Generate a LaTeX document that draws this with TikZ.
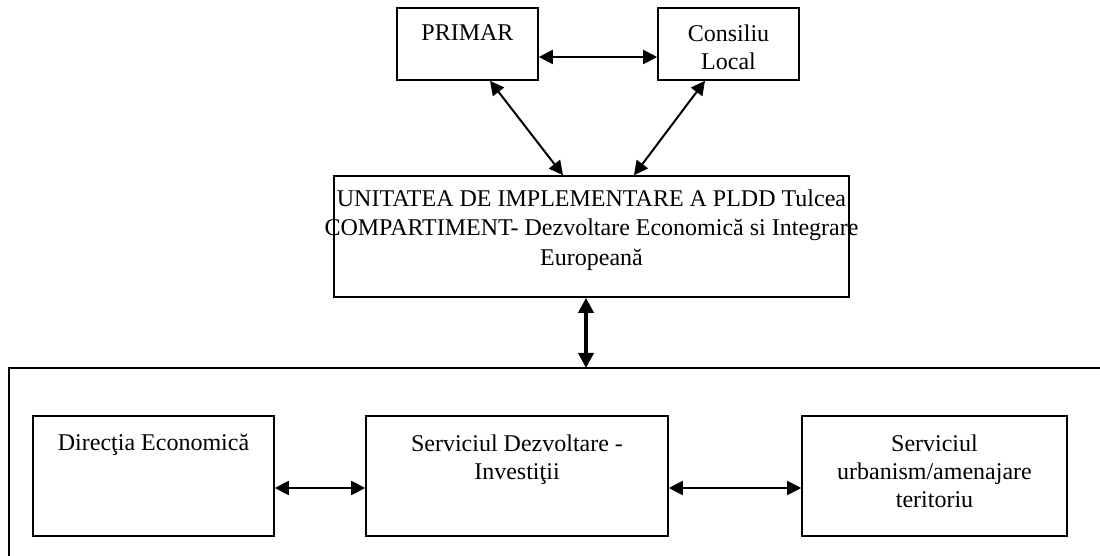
\documentclass[tikz,border=0pt]{standalone}
\usepackage{fontspec}
\setmainfont{Liberation Serif}
\usetikzlibrary{arrows.meta,calc}
\tikzset{
	box/.style={draw,line width=0.8pt,inner sep=0},
	boxtext/.style={anchor=north,align=center,inner sep=0,font=\fontsize{12}{14}\selectfont,yshift=-8.5pt},
	dirarrow/.style={<->,>={Triangle[length=7pt,width=7pt]},line width=1pt},
	thickarrow/.style={<->,>={Triangle[length=7.5pt,width=7.5pt]},line width=1.8pt}
}
\begin{document}
\begin{tikzpicture}[x=0.5pt,y=-0.5pt]
	\useasboundingbox (0,0) rectangle (1100,556);

	%%Primar and Consiliu Local
	\node[box,minimum width=70.5pt,minimum height=36pt] (primar) at (467.5,44) {};
	\node[boxtext] (primarT) at (primar.north) {PRIMAR};
	\node[box,minimum width=70.5pt,minimum height=36pt] (consiliu) at (728.5,44) {};
	\node[boxtext] (consiliuT) at (consiliu.north) {Consiliu\\Local};

	%%Unitatea de implementare
	\node[box,minimum width=257.5pt,minimum height=60.5pt] (uip) at (591.5,236.5) {};
	\node[boxtext,yshift=1.5pt,font=\fontsize{12}{14.8}\selectfont] (uipT) at (uip.north) {UNITATEA DE IMPLEMENTARE A PLDD Tulcea\\COMPARTIMENT- Dezvoltare Economic\u{a} si Integrare\\European\u{a}};

	%%group of services (open at right and bottom)
	\coordinate (grpR) at (1100,368);
	\coordinate (grpB) at (9,556);
	\draw[line width=0.8pt] (grpR) -| (grpB);

	%%services
	\node[box,minimum width=120.5pt,minimum height=60pt] (directia) at (153.5,476) {};
	\node[boxtext,yshift=-1pt] (directiaT) at (directia.north) {Direcţia Economic\u{a}};
	\node[box,minimum width=151pt,minimum height=60pt] (dezv) at (517,476) {};
	\node[boxtext,yshift=-1pt] (dezvT) at (dezv.north) {Serviciul Dezvoltare -\\Investiţii};
	\node[box,minimum width=132.5pt,minimum height=60pt] (urban) at (934.5,476) {};
	\node[boxtext,yshift=-1pt] (urbanT) at (urban.north) {Serviciul\\urbanism/amenajare\\teritoriu};

	%%arrows on top
	\draw[dirarrow] ([yshift=-6.5pt]primar.east) -- ([yshift=-6.5pt]consiliu.west);
	\draw[dirarrow] ([xshift=11.25pt]primar.south) -- ([xshift=-14.25pt]uip.north);
	\draw[dirarrow] ([xshift=-11.75pt]consiliu.south) -- ([xshift=21.25pt]uip.north);

	%%arrow to the services
	\draw[thickarrow] ([xshift=-2.75pt]uip.south) -- ([xshift=-2.75pt]uip.south |- grpR);

	%%arrows among services
	\draw[dirarrow] ([yshift=-6pt]directia.east) -- ([yshift=-6pt]dezv.west);
	\draw[dirarrow] ([yshift=-6pt]dezv.east) -- ([yshift=-6pt]urban.west);
\end{tikzpicture}
\end{document}
